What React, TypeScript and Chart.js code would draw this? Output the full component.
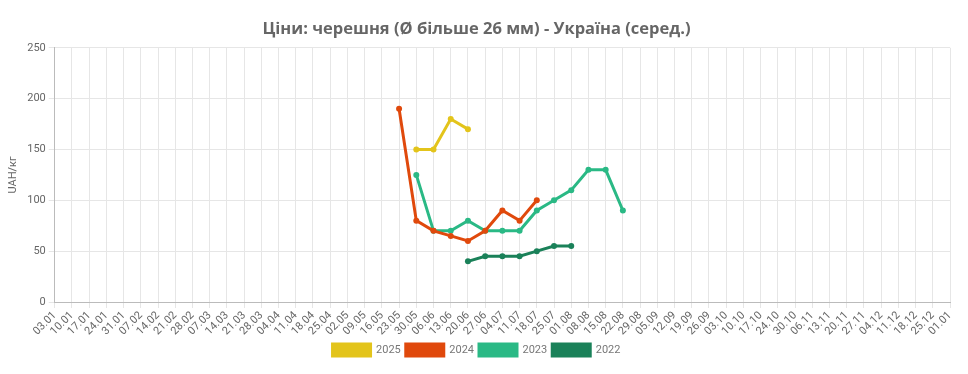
import React, { useEffect, useRef } from "react";
import { Chart, registerables } from "chart.js";

Chart.register(...registerables);

const labels = [
  "03.01","10.01","17.01","24.01","31.01","07.02","14.02","21.02","28.02","07.03",
  "14.03","21.03","28.03","04.04","11.04","18.04","25.04","02.05","09.05","16.05",
  "23.05","30.05","06.06","13.06","20.06","27.06","04.07","11.07","18.07","25.07",
  "01.08","08.08","15.08","22.08","29.08","05.09","12.09","19.09","26.09","03.10",
  "10.10","17.10","24.10","30.10","06.11","13.11","20.11","27.11","04.12","11.12",
  "18.12","25.12","01.01",
];

const N = null;
const s2025 = [N,N,N,N,N,N,N,N,N,N, N,N,N,N,N,N,N,N,N,N, N,150,150,180,170];
const s2024 = [N,N,N,N,N,N,N,N,N,N, N,N,N,N,N,N,N,N,N,N, 190,80,70,65,60,70,90,80,100];
const s2023 = [N,N,N,N,N,N,N,N,N,N, N,N,N,N,N,N,N,N,N,N, N,125,70,70,80,70,70,70,90,100,110,130,130,90];
const s2022 = [N,N,N,N,N,N,N,N,N,N, N,N,N,N,N,N,N,N,N,N, N,N,N,N,40,45,45,45,50,55,55];

const seriesNames = ["2025", "2024", "2023", "2022"];
const colors = ["#E3C41B", "#E0490C", "#2AB985", "#1A8159"];

export default function App() {
  const ref = useRef<HTMLCanvasElement>(null);
  useEffect(() => {
    if (!ref.current) return;
    const data = [s2025, s2024, s2023, s2022];
    const chart = new Chart(ref.current, {
      type: "line",
      data: {
        labels,
        datasets: data.map((d, i) => ({
          label: seriesNames[i],
          data: d,
          borderColor: colors[i],
          backgroundColor: colors[i],
          pointBackgroundColor: colors[i],
          borderWidth: 3,
          pointRadius: 3,
          pointBorderWidth: 0,
          tension: 0,
          spanGaps: false,
        })),
      },
      options: {
        animation: false,
        responsive: true,
        maintainAspectRatio: false,
        layout: { padding: { left: 3, right: 18, top: 10, bottom: 8 } },
        plugins: {
          title: {
            display: true,
            text: "Ціни: черешня (Ø більше 26 мм) - Україна (серед.)",
            color: "#666",
            font: { family: "Open Sans", size: 16.5, weight: "bold" },
            padding: { top: 9, bottom: 9 },
          },
          legend: {
            position: "bottom",
            labels: {
              color: "#777",
              font: { family: "Roboto", size: 11 },
              boxWidth: 38,
              boxHeight: 12,
              padding: 5,
            },
          },
          tooltip: { enabled: false },
        },
        scales: {
          x: {
            grid: { color: "#e6e6e6", tickLength: 6 },
            border: { color: "#bbb" },
            ticks: {
              color: "#666",
              font: { family: "Roboto", size: 11 },
              autoSkip: false,
              maxRotation: 45,
              minRotation: 45,
              padding: 1,
            },
            afterFit: (scale: any) => {
              scale.height = 37;
            },
          },
          y: {
            min: 0,
            max: 250,
            grid: { color: "#e6e6e6", tickLength: 6 },
            border: { color: "#bbb" },
            ticks: {
              stepSize: 50,
              color: "#666",
              font: { family: "Roboto", size: 11 },
            },
            title: {
              display: true,
              text: "UAH/кг",
              color: "#666",
              font: { family: "Roboto", size: 11 },
            },
          },
        },
      },
    });
    return () => chart.destroy();
  }, []);
  return (
    <div style={{ position: "fixed", left: 0, top: 0, width: 968, height: 374, background: "#fff" }}>
      <canvas ref={ref} />
    </div>
  );
}
